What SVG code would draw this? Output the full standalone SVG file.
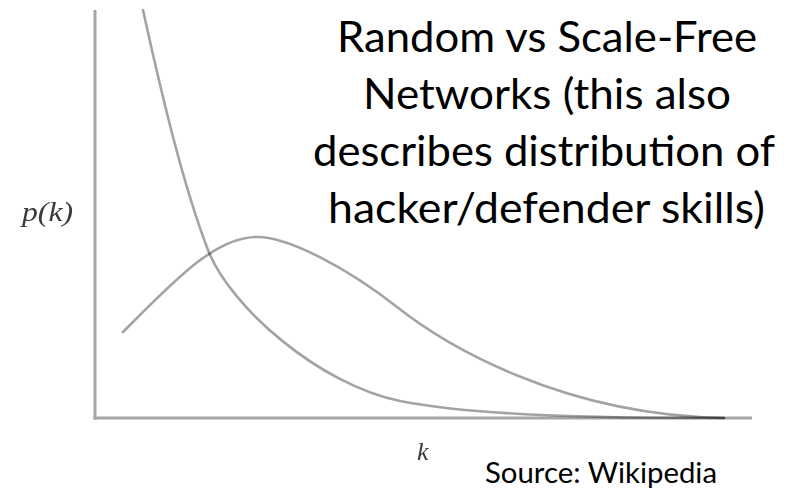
<svg xmlns="http://www.w3.org/2000/svg" width="792" height="491" viewBox="0 0 792 491">
  <style>
    .axis { stroke: #a6a6a6; stroke-width: 3; fill: none; }
    .curve { stroke: #000; stroke-opacity: 0.36; stroke-width: 2.6; fill: none; stroke-linecap: round; }
    .title { font-family: Lato, "Open Sans", "Liberation Sans", sans-serif; font-size: 42px; fill: #000; }
    .source { font-family: Lato, "Open Sans", "Liberation Sans", sans-serif; font-size: 28.5px; fill: #000; }
    .math { font-family: "Liberation Serif", "DejaVu Serif", serif; font-style: italic; fill: #3a3a3a; }
  </style>
  <defs>
    <filter id="soft" x="-20%" y="-20%" width="140%" height="140%">
      <feGaussianBlur stdDeviation="0.7"/>
    </filter>
  </defs>

  <rect width="792" height="491" fill="#fff"/>

  <!-- plot axes -->
  <g id="axes">
    <line class="axis" x1="95" y1="10" x2="95" y2="419.5"/>
    <line class="axis" x1="93.5" y1="418" x2="752" y2="418"/>
  </g>

  <!-- degree distributions: power law and Poisson -->
  <g id="curves">
    <path id="scale-free" class="curve"
          d="M143,10 C165,110 185,190 208,250 C230,307 320,385 400,401 C480,417 620,418 724,418"/>
    <path id="random" class="curve"
          d="M123,332 C175,280 215,237 257,237 C290,237 350,270 397,307 C444,344 560,415 724,418"/>
  </g>

  <!-- axis labels -->
  <g id="axis-labels" filter="url(#soft)">
    <text class="math" x="22" y="221" font-size="28" textLength="51" lengthAdjust="spacingAndGlyphs">p(k)</text>
    <text class="math" x="417" y="460" font-size="26">k</text>
  </g>

  <!-- heading -->
  <g id="title">
    <text class="title" x="337" y="52" textLength="420" lengthAdjust="spacingAndGlyphs">Random vs Scale-Free</text>
    <text class="title" x="363" y="109" textLength="368" lengthAdjust="spacingAndGlyphs">Networks (this also</text>
    <text class="title" x="313" y="166" textLength="462" lengthAdjust="spacingAndGlyphs">describes distribution of</text>
    <text class="title" x="328" y="223" textLength="437" lengthAdjust="spacingAndGlyphs">hacker/defender skills)</text>
  </g>

  <g id="source">
    <text class="source" x="485" y="483" textLength="232" lengthAdjust="spacingAndGlyphs">Source: Wikipedia</text>
  </g>
</svg>
